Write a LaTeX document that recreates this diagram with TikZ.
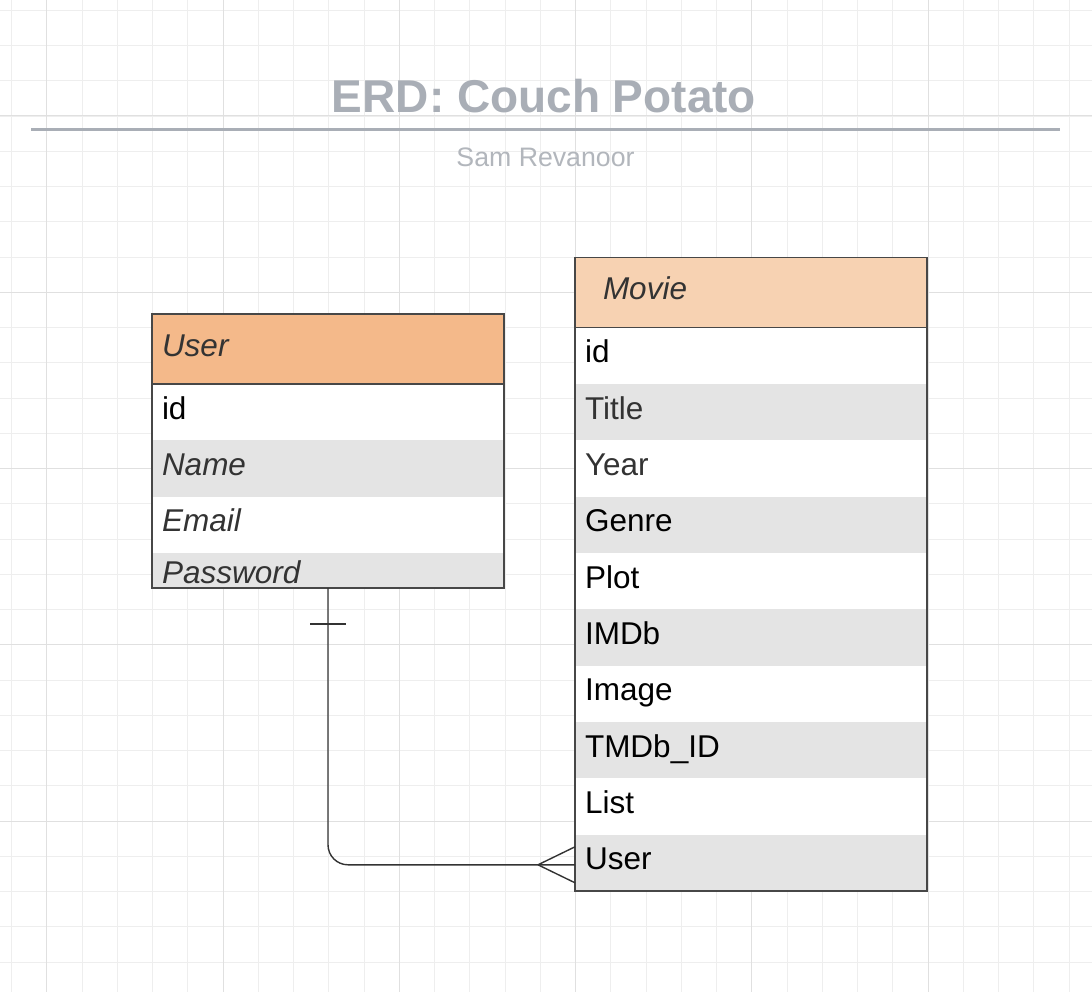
\documentclass[tikz,border=0pt]{standalone}
\usepackage{fontspec}
\setmainfont{Liberation Sans}
\usetikzlibrary{calc}

\definecolor{gridminor}{HTML}{EEEEEE}
\definecolor{gridmajor}{HTML}{E0E0E0}
\definecolor{titlegray}{HTML}{A9AEB6}
\definecolor{subgray}{HTML}{B2B6BC}
\definecolor{userhead}{HTML}{F4B98A}
\definecolor{moviehead}{HTML}{F7D2B2}
\definecolor{rowgray}{HTML}{E4E4E4}
\definecolor{textdark}{HTML}{333333}
\definecolor{edgegray}{HTML}{474747}

\begin{document}
\begin{tikzpicture}[x=1pt,y=-1pt,
  every node/.style={font=\fontsize{31.5}{36}\selectfont,outer sep=0pt},
  field/.style={anchor=north west,inner xsep=10pt,inner ysep=0pt,text width=332pt,
    minimum height=56.33pt,text height=22pt,text depth=8pt,align=left},
  header/.style={field,minimum height=70pt,font=\fontsize{31.5}{36}\selectfont\itshape,text=textdark},
  slanted/.style={font=\fontsize{31.5}{36}\selectfont\itshape},
  boxline/.style={draw=edgegray,line width=1.6pt},
  link/.style={draw=textdark,line width=1.4pt}]
\useasboundingbox (0,0) rectangle (1092,992);
\fill[white] (0,0) rectangle (1092,992);
% grid
\foreach \i in {0,...,30} \draw[gridminor,line width=1pt] ({11.7+35.25*\i},0) -- ++(0,992);
\foreach \i in {0,...,27} \draw[gridminor,line width=1pt] (0,{10.3+35.25*\i}) -- ++(1092,0);
\foreach \i in {0,...,5} \draw[gridmajor,line width=1pt] ({46.95+176.25*\i},0) -- ++(0,992);
\foreach \i in {0,...,4} \draw[gridmajor,line width=1pt] (0,{116+176.25*\i}) -- ++(1092,0);

% title
\node[anchor=base,text=titlegray,font=\fontsize{46}{50}\selectfont\bfseries] (title) at (544,113) {ERD: Couch Potato};
\draw[titlegray,line width=3pt] (31,130) -- (1060,130);
\node[anchor=base,text=subgray,font=\fontsize{26.7}{32}\selectfont] (author) at (545.5,166.7) {Sam Revanoor};

% User entity
\node[header,fill=userhead] (uh) at (152,314) {User};
\node[field,fill=white,text=black] (u1) at (152,384) {id};
\node[field,fill=rowgray,text=textdark,slanted] (u2) at (152,440.33) {Name};
\node[field,fill=white,text=textdark,slanted] (u3) at (152,496.67) {Email};
\node[field,fill=rowgray,text=textdark,slanted,
  minimum height=35pt,text height=25pt,text depth=0pt] (u4) at (152,553) {Password};
\draw[boxline] (uh.north west) rectangle (u4.south east);
\draw[boxline] (uh.south west) -- (uh.south east);

% Movie entity
\node[header,fill=moviehead,inner xsep=28pt,text width=296pt] (mh) at (575,257.67) {Movie};
\foreach \t/\f/\c [count=\k] in {id/white/black,Title/rowgray/textdark,Year/white/textdark,
    Genre/rowgray/black,Plot/white/black,IMDb/rowgray/black,Image/white/black,
    TMDb\_ID/rowgray/black,List/white/black,User/rowgray/black}
  \node[field,fill=\f,text=\c] (m\k) at (575,{327.67+56.33*(\k-1)}) {\t};
\draw[boxline] (mh.north west) rectangle (m10.south east);
\draw[boxline] (mh.south west) -- (mh.south east);

% one user -- many movies
\coordinate (foot) at ($(m10.west)+(0,2)$);
\draw[link,rounded corners=20pt] (u4.south) |- (foot);
\draw[link] ($(u4.south)+(-18,36)$) -- ($(u4.south)+(18,36)$);
\draw[link] ($(foot)+(-37,0)$) -- ($(foot)+(0,-18)$);
\draw[link] ($(foot)+(-37,0)$) -- ($(foot)+(0,18)$);
\end{tikzpicture}
\end{document}
